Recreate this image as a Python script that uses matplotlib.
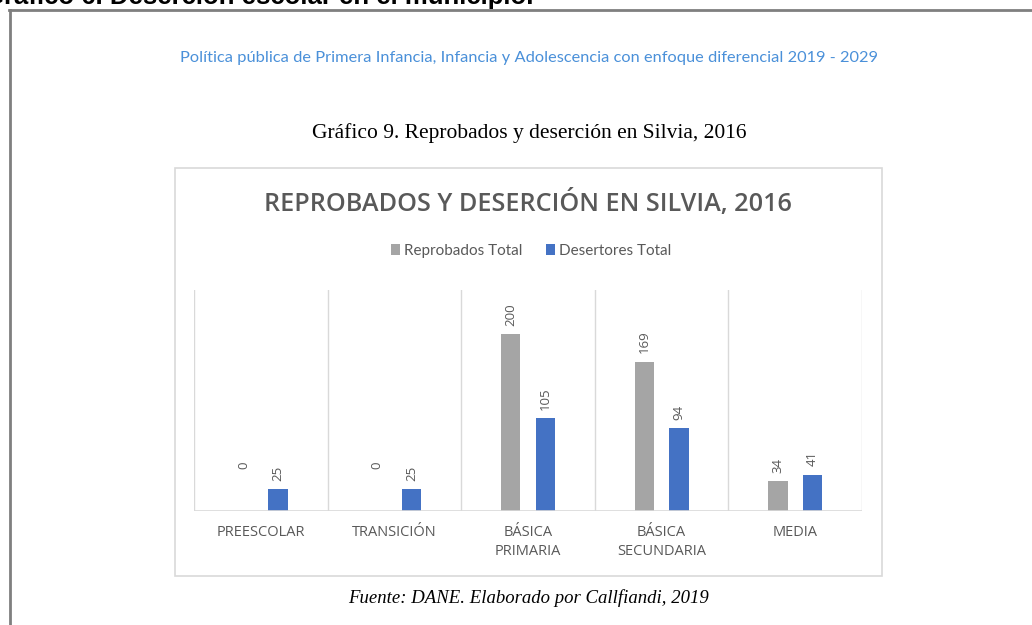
import numpy as np
import matplotlib
matplotlib.use("Agg")
import matplotlib.pyplot as plt
from matplotlib.patches import Rectangle
from matplotlib.lines import Line2D

# data
categories = ["PREESCOLAR", "TRANSICIÓN", "BÁSICA\nPRIMARIA", "BÁSICA\nSECUNDARIA", "MEDIA"]
reprobados = [0, 0, 200, 169, 34]
desertores = [25, 25, 105, 94, 41]
series_names = ["Reprobados Total", "Desertores Total"]

gray = "#A5A5A5"
blue = "#4472C4"
txt = "#595959"
grid = "#D9D9D9"

fig = plt.figure(figsize=(10.32, 6.25), dpi=100)
W, H = 1032, 625

def fx(px):
    return px / W

def fy(py):
    return 1 - py / H

# outer frame (cut off page box)
fig.add_artist(Line2D([fx(9), 1.0], [fy(10), fy(10)], color="#7F7F7F", lw=2))
fig.add_artist(Line2D([fx(9.5), fx(9.5)], [fy(10), 0.0], color="#7F7F7F", lw=2))

# heading cut off at the top of the page
fig.text(fx(-16), fy(-3), "Gráfico 6. Deserción escolar en el municipio.", fontsize=18.5,
         fontweight="bold", family="Liberation Sans", ha="left", va="center", color="black")

# document header
fig.text(fx(529), fy(58), "Política pública de Primera Infancia, Infancia y Adolescencia con enfoque diferencial 2019 - 2029",
         fontsize=11.8, family="Lato", color="#4A90D9", ha="center", va="center")

fig.text(fx(529), fy(133), "Gráfico 9. Reprobados y deserción en Silvia, 2016",
         fontsize=15.5, family="Liberation Serif", color="black", ha="center", va="center")

# chart box
fig.add_artist(Rectangle((fx(175), fy(576)), fx(707), 408 / H, transform=fig.transFigure,
                         fill=False, edgecolor=grid, lw=1.2))

fig.text(fx(528), fy(203), "REPROBADOS Y DESERCIÓN EN SILVIA, 2016",
         fontsize=18.2, family="Open Sans", fontweight="semibold", color=txt,
         ha="center", va="center")

ax = fig.add_axes([fx(194), fy(511), fx(862) - fx(194), fy(290) - fy(511)])
x = np.arange(len(categories))
bw = 0.145
off = 0.13
b1 = ax.bar(x - off, reprobados, bw, color=gray, label=series_names[0], zorder=3)
b2 = ax.bar(x + off, desertores, bw, color=blue, label=series_names[1], zorder=3)

ax.set_xlim(-0.5, len(categories) - 0.5)
ax.set_ylim(0, 250)
for xv in np.arange(-0.5, len(categories), 1.0):
    ax.axvline(xv, color=grid, lw=1, zorder=1)

for s in ax.spines.values():
    s.set_visible(False)
ax.axhline(0, color=grid, lw=1.2, zorder=4)
ax.set_yticks([])
ax.set_xticks(x)
ax.set_xticklabels(categories, fontsize=10.5, family="Open Sans", color=txt, linespacing=1.4)
ax.tick_params(axis="x", length=0, pad=10)

for bars, vals in ((b1, reprobados), (b2, desertores)):
    for rect, v in zip(bars, vals):
        offset = 30 if v == 0 else 6
        ax.annotate(str(v), (rect.get_x() + rect.get_width() / 2, v), xytext=(0, offset),
                    textcoords="offset points", rotation=90, ha="center", va="bottom",
                    fontsize=9.5, family="Open Sans", color=txt)

leg = fig.legend(handles=[b1, b2], loc="center", bbox_to_anchor=(fx(531), fy(251)), ncol=2,
                 frameon=False, prop={"family": "Lato", "size": 11}, handlelength=0.6,
                 handleheight=0.7, handletextpad=0.25, columnspacing=1.5)
for t in leg.get_texts():
    t.set_color(txt)

fig.text(fx(528), fy(598), "Fuente: DANE. Elaborado por Callfiandi, 2019",
         fontsize=13.5, family="Liberation Serif", style="italic", color="black",
         ha="center", va="center")

fig.savefig("out.png", dpi=100, facecolor="white")
